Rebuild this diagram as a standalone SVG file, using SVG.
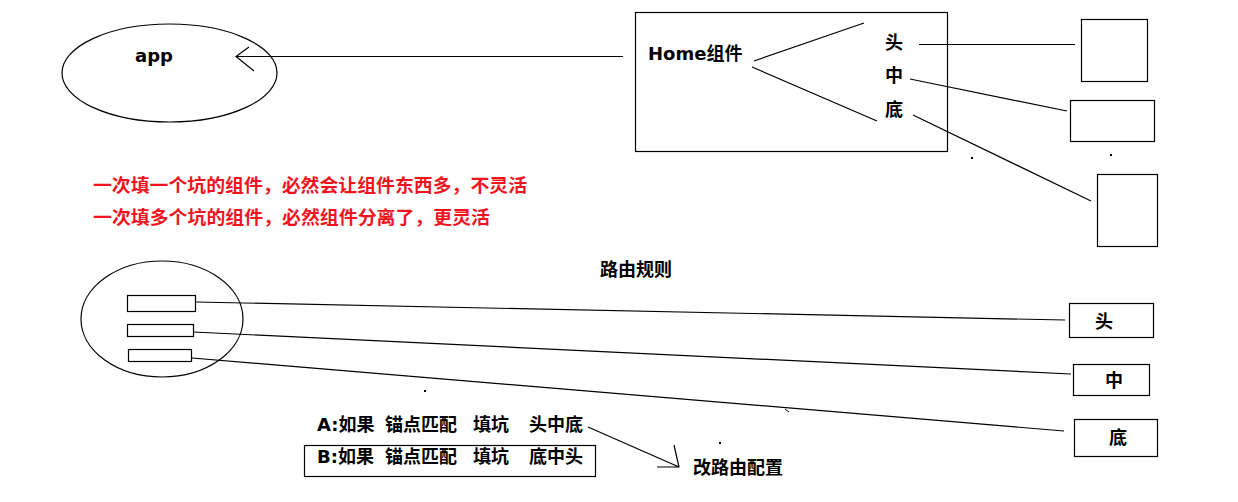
<svg xmlns="http://www.w3.org/2000/svg" width="1238" height="502" viewBox="0 0 1238 502">
<style>
.s{fill:none;stroke:#000;stroke-width:1.2}
.t{font-family:"DejaVu Sans","Noto Sans CJK SC",sans-serif;font-weight:bold;font-size:18px;fill:#000}
.r{font-family:"Noto Sans CJK SC",sans-serif;font-weight:bold;font-size:18px;fill:#f0141e}
</style>
<rect width="1238" height="502" fill="#fff"/>
<g id="app">
<ellipse class="s" cx="169.5" cy="73" rx="107.5" ry="49"/>
<text class="t" x="135" y="62">app</text>
</g>
<g id="home">
<rect class="s" x="635.5" y="12.5" width="312" height="139"/>
<text class="t" x="648" y="60">Home组件</text>
<text class="t" x="885" y="48.5">头</text>
<text class="t" x="885" y="82">中</text>
<text class="t" x="885" y="115.5">底</text>
</g>
<g id="box-top1"><rect class="s" x="1081.5" y="19.5" width="66" height="62"/></g>
<g id="box-top2"><rect class="s" x="1070.5" y="100.5" width="84" height="41"/></g>
<g id="box-top3"><rect class="s" x="1097.5" y="174.5" width="60" height="72"/></g>
<g id="notes">
<text class="r" x="93" y="191.5" textLength="434" lengthAdjust="spacingAndGlyphs">一次填一个坑的组件，必然会让组件东西多，不灵活</text>
<text class="r" x="93" y="224" textLength="397" lengthAdjust="spacingAndGlyphs">一次填多个坑的组件，必然组件分离了，更灵活</text>
</g>
<g id="route-title"><text class="t" x="600" y="276">路由规则</text></g>
<g id="router">
<ellipse class="s" cx="162" cy="319" rx="81" ry="58"/>
<rect class="s" x="127.5" y="295.5" width="68" height="16"/>
<rect class="s" x="127.5" y="324.5" width="66" height="12"/>
<rect class="s" x="128.5" y="349.5" width="63" height="12"/>
</g>
<g id="slot-head"><rect class="s" x="1069.5" y="303.5" width="84" height="34"/><text class="t" x="1095" y="328">头</text></g>
<g id="slot-mid"><rect class="s" x="1073.5" y="364.5" width="76" height="31"/><text class="t" x="1105" y="387">中</text></g>
<g id="slot-bot"><rect class="s" x="1074.5" y="419.5" width="83" height="37"/><text class="t" x="1109" y="444">底</text></g>
<g id="optA">
<text class="t" y="431"><tspan x="317">A:如果</tspan><tspan x="385">锚点匹配</tspan><tspan x="473">填坑</tspan><tspan x="529">头中底</tspan></text>
</g>
<g id="optB">
<rect class="s" x="304.5" y="445.5" width="291" height="31"/>
<text class="t" y="463"><tspan x="317">B:如果</tspan><tspan x="385">锚点匹配</tspan><tspan x="473">填坑</tspan><tspan x="529">底中头</tspan></text>
</g>
<g id="change"><text class="t" x="693" y="474">改路由配置</text></g>
<g id="connectors" class="s">
<path d="M623 56.5H236M249 47L236 56.5L254 71"/>
<path d="M754 61L864 23M752 67L877 121"/>
<path d="M919 44.5H1075M910 79L1067 111M913 115L1091 201"/>
<path d="M196 302L1065 320M193 332L1071 374M192 358L1064 431"/>
<path d="M588 427L679 467M674 445L679 467L657 467"/>
</g>
<g id="marks" fill="#000">
<rect x="971" y="157" width="2" height="2"/>
<rect x="1110" y="154" width="2" height="2"/>
<rect x="424" y="390" width="2" height="2"/>
<rect x="719" y="442" width="2" height="2"/>
<path d="M785 409L789 412" stroke="#000" stroke-width="1"/>
</g>
</svg>
